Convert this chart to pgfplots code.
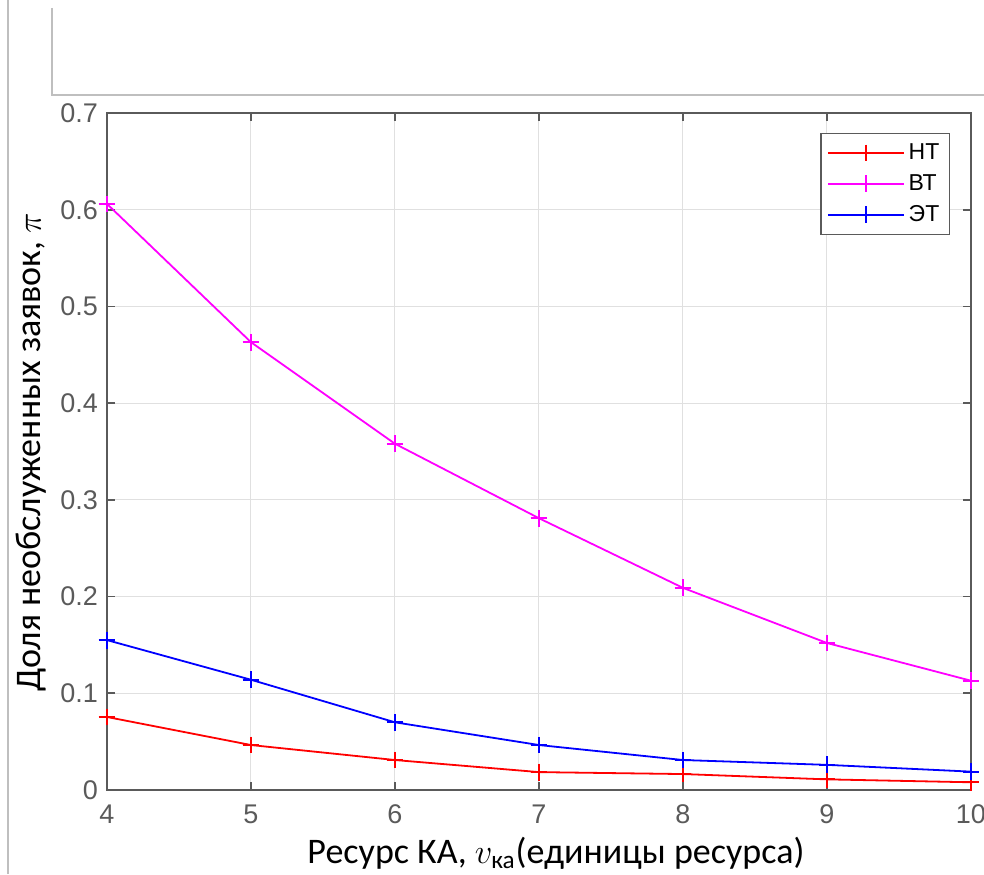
\documentclass[border=0pt]{standalone}
\usepackage{amsmath}
\usepackage{fontspec}
\usepackage{pgfplots}
\pgfplotsset{compat=1.18}
\setmainfont{Liberation Sans}
\newfontfamily\carlito{Carlito}
\definecolor{axgray}{HTML}{5A5A5A}
\definecolor{mred}{HTML}{FF0000}
\definecolor{mmag}{HTML}{FF00FF}
\definecolor{mblue}{HTML}{0000FF}

\begin{document}
\begin{tikzpicture}
\begin{axis}[
  at={(0,0)}, anchor=south west,
  scale only axis, width=432pt, height=338.5pt,
  xmin=4, xmax=10, ymin=0, ymax=0.7,
  xtick={4,...,10}, ytick={0,0.1,...,0.7},
  yticklabels={0,0.1,0.2,0.3,0.4,0.5,0.6,0.7},
  xtick pos=both, ytick pos=both, tick align=inside,
  major tick length=4pt,
  axis line style={axgray, line width=0.9pt},
  major tick style={axgray, line width=0.9pt},
  grid=major, grid style={black!12, line width=0.5pt},
  /pgf/number format/assume math mode=true,
  tick label style={font=\fontsize{13.5}{15}\selectfont, text=axgray},
  xticklabel style={yshift=-4pt},
  yticklabel style={xshift=-1pt},
  xlabel={\carlito Ресурс КА, $v_{\text{ка}}$(единицы ресурса)},
  ylabel={\carlito Доля необслуженных заявок, $\pi$},
  label style={font=\fontsize{18}{21}\selectfont},
  xlabel style={at={(axis description cs:0.5197,-0.1085)}, anchor=base},
  ylabel style={at={(axis description cs:-0.0764,0.499)}, anchor=base},
  legend style={at={(axis description cs:0.9757,0.9705)}, anchor=north east,
    font=\fontsize{11.5}{13}\selectfont, draw=axgray, line width=0.6pt,
    inner xsep=3pt, inner ysep=3pt, row sep=2pt, cells={anchor=west}},
  legend image code/.code={\draw[mark repeat=2, mark phase=2, #1]
    plot coordinates {(0pt,0pt) (19pt,0pt) (38pt,0pt)};},
  every axis plot/.append style={line width=0.9pt, mark=+, mark size=4.2pt},
  clip=false,
]
\addplot[mred] coordinates {(4,0.0755) (5,0.0465) (6,0.031) (7,0.0185) (8,0.0165) (9,0.011) (10,0.008)};
\addplot[mmag] coordinates {(4,0.606) (5,0.463) (6,0.358) (7,0.281) (8,0.209) (9,0.152) (10,0.113)};
\addplot[mblue] coordinates {(4,0.155) (5,0.114) (6,0.070) (7,0.0465) (8,0.031) (9,0.026) (10,0.019)};
\legend{НТ, ВТ, ЭТ}
\end{axis}
% screenshot frame lines around the figure
\draw[black!25, line width=0.6pt] (-49.5pt,-42pt) -- (-49.5pt,395pt);
\draw[black!25, line width=0.6pt] (-27.5pt,391pt) -- (-27.5pt,347.5pt) -- (438.5pt,347.5pt);
\pgfresetboundingbox
\useasboundingbox (-53.5pt,-42pt) rectangle (438.5pt,395pt);
\end{tikzpicture}
\end{document}
